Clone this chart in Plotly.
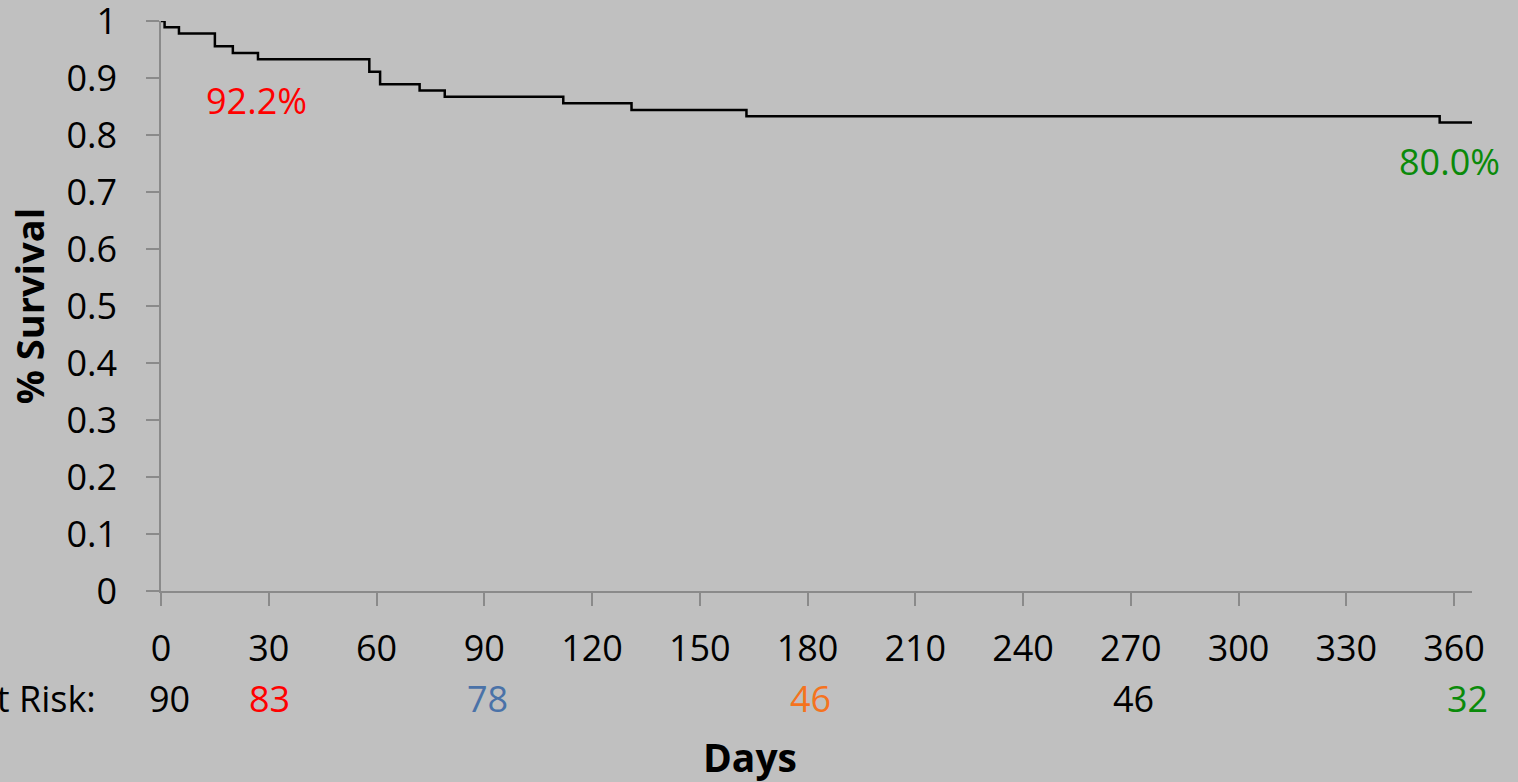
import plotly.graph_objects as go

# Kaplan-Meier step data (days, survival fraction)
days = [0, 1, 5, 15, 20, 27, 58, 61, 72, 79, 112, 131, 163, 356, 365]
survival = [1.0, 0.989, 0.978, 0.956, 0.944, 0.933, 0.911, 0.889, 0.878, 0.867, 0.856, 0.844, 0.833, 0.822, 0.822]

x_ticks = [0, 30, 60, 90, 120, 150, 180, 210, 240, 270, 300, 330, 360]
y_ticks = [0, 0.1, 0.2, 0.3, 0.4, 0.5, 0.6, 0.7, 0.8, 0.9, 1]
y_tick_text = ["0", "0.1", "0.2", "0.3", "0.4", "0.5", "0.6", "0.7", "0.8", "0.9", "1"]

risk_days = [0, 30, 90, 180, 270, 360]
risk_counts = ["90", "83", "78", "46", "46", "32"]
risk_colors = ["black", "#ff0000", "#4a72a8", "#f5731e", "black", "#0a8a0a"]
risk_shift = [8, 1, 3, 3, 3, 13]

labels_text = ["92.2%", "80.0%"]
labels_x = [26.7, 358.6]
labels_y = [0.861, 0.753]
labels_color = ["#ff0000", "#0a8a0a"]

FONT = "Open Sans"
BG = "#c0c0c0"
FS = 36

fig = go.Figure()
fig.add_trace(go.Scatter(
    x=days, y=survival, mode="lines", line_shape="hv", cliponaxis=False,
    line=dict(color="black", width=2.5), hoverinfo="skip", showlegend=False,
))

annotations = []
for t, xv, yv, c in zip(labels_text, labels_x, labels_y, labels_color):
    annotations.append(dict(x=xv, y=yv, xref="x", yref="y", text=t, showarrow=False,
                            font=dict(family=FONT, size=FS, color=c)))
for d, n, c, s in zip(risk_days, risk_counts, risk_colors, risk_shift):
    annotations.append(dict(x=d, y=-0.188, xref="x", yref="paper", text=n, showarrow=False,
                            xshift=s, yanchor="middle",
                            font=dict(family=FONT, size=FS, color=c)))
annotations.append(dict(x=-0.048, y=-0.188, xref="paper", yref="paper", text="At Risk:",
                        xanchor="right", yanchor="middle", showarrow=False,
                        font=dict(family=FONT, size=FS, color="black")))
annotations.append(dict(x=0.449, y=-0.291, xref="paper", yref="paper", text="<b>Days</b>",
                        showarrow=False, yanchor="middle",
                        font=dict(family=FONT, size=39, color="black")))

fig.update_layout(
    width=1518, height=782,
    paper_bgcolor=BG, plot_bgcolor=BG,
    margin=dict(l=161, r=46, t=21, b=191, autoexpand=False),
    font=dict(family=FONT, size=FS, color="black"),
    annotations=annotations,
    xaxis=dict(range=[0, 365], tickvals=x_ticks, showgrid=False, zeroline=False,
               showline=True, linecolor="#8a8a8a", linewidth=1.5, automargin=False,
               ticks="outside", ticklen=13, tickcolor="#8a8a8a", tickwidth=1.5,
               ticklabeloverflow="allow",
               ticklabelstandoff=12, tickfont=dict(family=FONT, size=FS, color="black")),
    yaxis=dict(range=[0, 1.0001], tickvals=y_ticks, ticktext=y_tick_text,
               showgrid=False, zeroline=False, automargin=False,
               showline=True, linecolor="#8a8a8a", linewidth=1.5,
               ticks="outside", ticklen=13, tickcolor="#8a8a8a", tickwidth=1.5,
               ticklabeloverflow="allow",
               ticklabelstandoff=22, tickfont=dict(family=FONT, size=FS, color="black"),
               title=dict(text="<b>% Survival</b>", font=dict(family=FONT, size=38, color="black"),
                          standoff=10)),
)

fig.write_html("out.html")
